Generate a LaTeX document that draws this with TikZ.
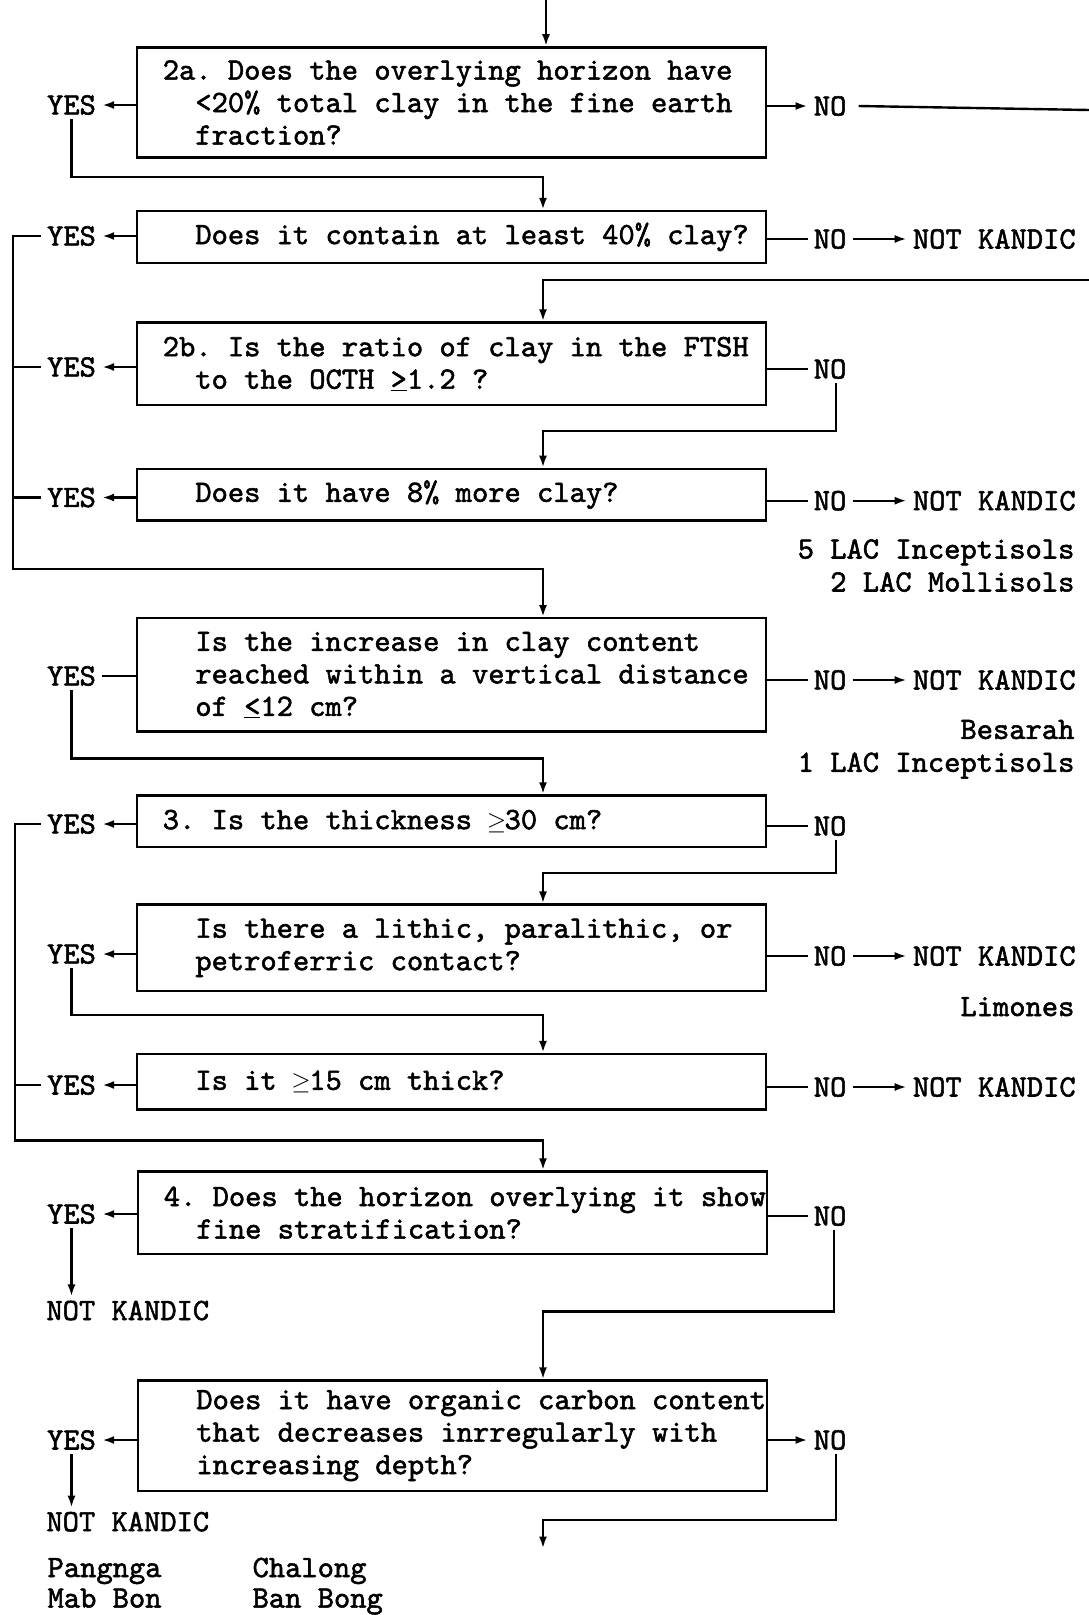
\documentclass[tikz,border=0pt]{standalone}
\usepackage{fontspec}
\usetikzlibrary{arrows.meta}
\newfontfamily\twfont{lmmono10-regular.otf}[FakeBold=1.7]
\newcommand\txt{\twfont\fontsize{31pt}{32.5pt}\selectfont\frenchspacing}
\newcommand\fixsp{\spaceskip=16.28pt\relax\xspaceskip=16.28pt\relax}
\newcommand\ind{\phantom{xx}}
\newcommand\qline[1]{\mbox{#1}}
\newcommand\geqsym{\makebox[0.525em]{$\geq$}}

\tikzset{
  line/.style={line width=2.4pt},
  arr/.style={line, -{Latex[length=12pt,width=8pt]}},
  qbox/.style={draw, line width=2.4pt, text width=577.4pt, inner xsep=25.8pt,
    inner ysep=0pt, align=flush left, font=\txt, execute at begin node=\fixsp},
  lbl/.style={font=\txt, inner xsep=6pt, inner ysep=4pt},
  note/.style={font=\txt, inner sep=0pt, anchor=base east},
  site/.style={font=\txt, inner sep=0pt, anchor=base west},
}

\begin{document}
\begin{tikzpicture}[x=1pt,y=-1pt]
\useasboundingbox[fill=white] (0,0) rectangle (1089,1615);

% question boxes
\node[qbox, minimum height=110.2pt] (B1) at (451.5,102.5)
  {\qline{2a. Does the overlying horizon have}\\
   \qline{\ind<20\% total clay in the fine earth}\\
   \qline{\ind fraction?}};
\node[qbox, minimum height=51.7pt] (B2) at (451.5,236.9)
  {\qline{\ind Does it contain at least 40\% clay?}};
\node[qbox, minimum height=82.5pt] (B3) at (451.5,363.8)
  {\qline{2b. Is the ratio of clay in the FTSH}\\
   \qline{\ind to the OCTH \underline{>}1.2 ?}};
\node[qbox, minimum height=51.5pt] (B4) at (451.5,494.6)
  {\qline{\ind Does it have 8\% more clay?}};
\node[qbox, minimum height=113.3pt] (B5) at (451.5,674.9)
  {\qline{\ind Is the increase in clay content}\\
   \qline{\ind reached within a vertical distance}\\
   \qline{\ind of \underline{<}12 cm?}};
\node[qbox, minimum height=51.5pt] (B6) at (451.5,821.2)
  {\qline{3. Is the thickness \geqsym30 cm?}};
\node[qbox, minimum height=86.5pt] (B7) at (451.5,947.9)
  {\qline{\ind Is there a lithic, paralithic, or}\\
   \qline{\ind petroferric contact?}};
\node[qbox, minimum height=55.6pt] (B8) at (451.5,1081.8)
  {\qline{\ind Is it \geqsym15 cm thick?}};
\node[qbox, minimum height=82.4pt] (B9) at (452.5,1212.7)
  {\qline{4. Does the horizon overlying it show}\\
   \qline{\ind fine stratification?}};
\node[qbox, minimum height=110.2pt] (B10) at (452.5,1435.7)
  {\qline{\ind Does it have organic carbon content}\\
   \qline{\ind that decreases inrregularly with}\\
   \qline{\ind increasing depth?}};

% YES labels
\node[lbl] (Y1) at (71.5,105) {YES};
\node[lbl] (Y2) at (71.5,236) {YES};
\node[lbl] (Y3) at (71.5,367) {YES};
\node[lbl] (Y4) at (71.5,497.5) {YES};
\node[lbl] (Y5) at (71.5,676) {YES};
\node[lbl] (Y6) at (71.5,824) {YES};
\node[lbl] (Y7) at (71.5,954) {YES};
\node[lbl] (Y8) at (71.5,1085) {YES};
\node[lbl] (Y9) at (71.5,1214) {YES};
\node[lbl] (Y10) at (71.5,1440) {YES};

% NO labels
\node[lbl] (N1) at (830.1,106) {NO};
\node[lbl] (N2) at (830.1,239) {NO};
\node[lbl] (N3) at (830.1,369) {NO};
\node[lbl] (N4) at (830.1,500.7) {NO};
\node[lbl] (N5) at (830.1,680) {NO};
\node[lbl] (N6) at (830.1,826) {NO};
\node[lbl] (N7) at (830.1,956) {NO};
\node[lbl] (N8) at (830.1,1087) {NO};
\node[lbl] (N9) at (830.1,1216) {NO};
\node[lbl] (N10) at (830.1,1440) {NO};

% outcomes
\node[lbl] (K2) at (994.3,239) {NOT KANDIC};
\node[lbl] (K4) at (994.3,500.7) {NOT KANDIC};
\node[lbl] (K5) at (994.3,680) {NOT KANDIC};
\node[lbl] (K7) at (994.3,956) {NOT KANDIC};
\node[lbl] (K8) at (994.3,1087) {NOT KANDIC};
\node[lbl] (K9) at (127.8,1310.5) {NOT KANDIC};
\node[lbl] (K10) at (127.8,1521.7) {NOT KANDIC};

% soils noted under the outcomes
\node[note] (s1) at (1074.6,558.5) {5 LAC Inceptisols};
\node[note] (s2) at (1074.6,591.5) {2 LAC Mollisols};
\node[note] (s3) at (1074.6,738.9) {Besarah};
\node[note] (s4) at (1074.6,771.8) {1 LAC Inceptisols};
\node[note] (s5) at (1074.6,1016) {Limones};
\node[site] (p1) at (47.4,1577) {Pangnga};
\node[site] (p2) at (252.4,1577) {Chalong};
\node[site] (p3) at (47.4,1607.5) {Mab Bon};
\node[site] (p4) at (252.4,1607.5) {Ban Bong};

% routing points
\coordinate (start) at (546,0);
\coordinate (outA) at (1089,110);
\coordinate (outB) at (1089,280.2);
\coordinate (c0) at (543,280.2);
\coordinate (c1) at (543,177.2);
\coordinate (v1top) at (13,236);
\coordinate (v1bot) at (13,568.7);
\coordinate (c2) at (543,568.7);
\coordinate (c3) at (543,430.7);
\coordinate (c5) at (543,758.3);
\coordinate (v2) at (15,1140.5);
\coordinate (c6) at (543,1140.5);
\coordinate (c7) at (543,872.7);
\coordinate (c8) at (543,1014.8);
\coordinate (c9) at (543,1311.6);
\coordinate (c10) at (543,1519.7);
\coordinate (end) at (543,1548.5);

% entry
\draw[arr] (start) -- (B1.north -| start);

% 2a
\draw[arr] (B1.west |- Y1) -- (Y1);
\draw[arr] (B1.east |- N1) -- (N1);
\draw[line] ([xshift=6pt]N1.east) -- (outA);
\draw[arr] (Y1.south) |- (c1) -- (c1 |- B2.north);

% 40% clay
\draw[arr] (B2.west |- Y2) -- (Y2);
\draw[arr] (Y2.west) -| (v1bot) -- (c2) -- (c2 |- B5.north);
\draw[line] (B2.east |- N2) -- (N2);
\draw[arr] (N2) -- (K2);
\draw[arr] (outB) -- (c0) -- (c0 |- B3.north);

% 2b
\draw[arr] (B3.west |- Y3) -- (Y3);
\draw[line] (Y3.west) -- (v1top |- Y3);
\draw[line] (B3.east |- N3) -- (N3);
\draw[arr] ([xshift=6pt]N3.south) |- (c3) -- (c3 |- B4.north);

% 8% more clay
\draw[arr] (B4.west |- Y4) -- (Y4);
\draw[line] (Y4.west) -- (v1top |- Y4);
\draw[line] (B4.east |- N4) -- (N4);
\draw[arr] (N4) -- (K4);

% vertical distance
\draw[line] (B5.west |- Y5) -- (Y5);
\draw[arr] (Y5.south) |- (c5) -- (c5 |- B6.north);
\draw[line] (B5.east |- N5) -- (N5);
\draw[arr] (N5) -- (K5);

% 3. thickness
\draw[arr] (B6.west |- Y6) -- (Y6);
\draw[arr] (Y6.west) -| (v2) -- (c6) -- (c6 |- B9.north);
\draw[line] (B6.east |- N6) -- (N6);
\draw[arr] ([xshift=6pt]N6.south) |- (c7) -- (c7 |- B7.north);

% contact
\draw[arr] (B7.west |- Y7) -- (Y7);
\draw[arr] (Y7.south) |- (c8) -- (c8 |- B8.north);
\draw[line] (B7.east |- N7) -- (N7);
\draw[arr] (N7) -- (K7);

% 15 cm
\draw[arr] (B8.west |- Y8) -- (Y8);
\draw[line] (Y8.west) -- (v2 |- Y8);
\draw[line] (B8.east |- N8) -- (N8);
\draw[arr] (N8) -- (K8);

% 4. stratification
\draw[arr] (B9.west |- Y9) -- (Y9);
\draw[arr] (Y9.south) -- (Y9.south |- K9.north);
\draw[line] (B9.east |- N9) -- (N9);
\draw[arr] ([xshift=4pt]N9.south) |- (c9) -- (c9 |- B10.north);

% organic carbon
\draw[arr] (B10.west |- Y10) -- (Y10);
\draw[arr] (Y10.south) -- (Y10.south |- K10.north);
\draw[arr] (B10.east |- N10) -- (N10);
\draw[arr] ([xshift=6pt]N10.south) |- (c10) -- (end);
\end{tikzpicture}
\end{document}
